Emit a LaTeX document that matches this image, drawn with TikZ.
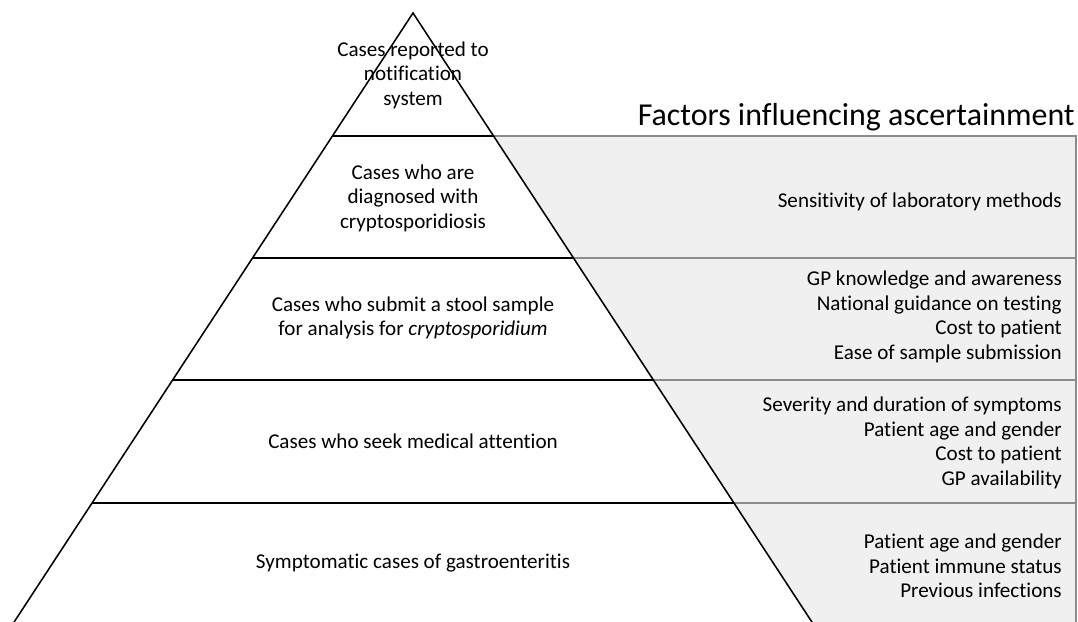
\documentclass[tikz,border=0pt]{standalone}
\usepackage{fontspec}
\setmainfont[Ligatures=NoCommon]{Carlito}
\tikzset{
	level/.style={align=center, font=\fontsize{15}{17.4}\selectfont},
	factor/.style={align=right, anchor=east, inner sep=0pt, font=\fontsize{15}{17.4}\selectfont},
	factorbox/.style={fill=gray!12, draw=gray!90, line width=0.8pt},
	pyramid/.style={draw=black, line width=1.1pt}
}
\begin{document}
\begin{tikzpicture}[x=0.025cm,y=-0.025cm]
			\useasboundingbox (0,0) rectangle (1078,621);
			
			% factor boxes behind the pyramid
			\foreach \t/\b in {136/258, 258/380, 380/503}{
				\draw[factorbox] (413,\t) rectangle (1076,\b);
			}
			\fill[gray!12] (413,503) rectangle (1076,650);
			\draw[gray!90, line width=0.8pt] (413,503) -- (1076,503) -- (1076,650);
			
			% pyramid
			\fill[white] (413,13) -- ({413-0.655*627},640) -- ({413+0.655*627},640) -- cycle;
			\draw[pyramid] ({413-0.655*627},640) -- (413,13) -- ({413+0.655*627},640);
			\foreach \h in {136, 258, 380, 503}{
				\draw[pyramid] ({413-0.655*(\h-13)},\h) -- ({413+0.655*(\h-13)},\h);
			}
			
			\node[level] (notified) at (413,75) {Cases reported to\\notification\\system};
			\node[level] (diagnosed) at (413,198) {Cases who are\\diagnosed with\\cryptosporidiosis};
			\node[level] (sample) at (413,318) {Cases who submit a stool sample\\for analysis for \textit{cryptosporidium}};
			\node[level] (medical) at (413,441) {Cases who seek medical attention};
			\node[level] (symptomatic) at (413,563) {Symptomatic cases of gastroenteritis};
			
			\node[anchor=base east, inner sep=0pt, font=\fontsize{22.7}{27}\selectfont] (title) at (1075,125) {Factors influencing ascertainment};
			\node[factor] (labfactor) at (1062,202) {Sensitivity of laboratory methods};
			\node[factor] (samplefactor) at (1062,317) {GP knowledge and awareness\\National guidance on testing\\Cost to patient\\Ease of sample submission};
			\node[factor] (medicalfactor) at (1062,443) {Severity and duration of symptoms\\Patient age and gender\\Cost to patient\\GP availability};
			\node[factor] (symptomfactor) at (1062,566) {Patient age and gender\\Patient immune status\\Previous infections};
		\end{tikzpicture}
\end{document}
